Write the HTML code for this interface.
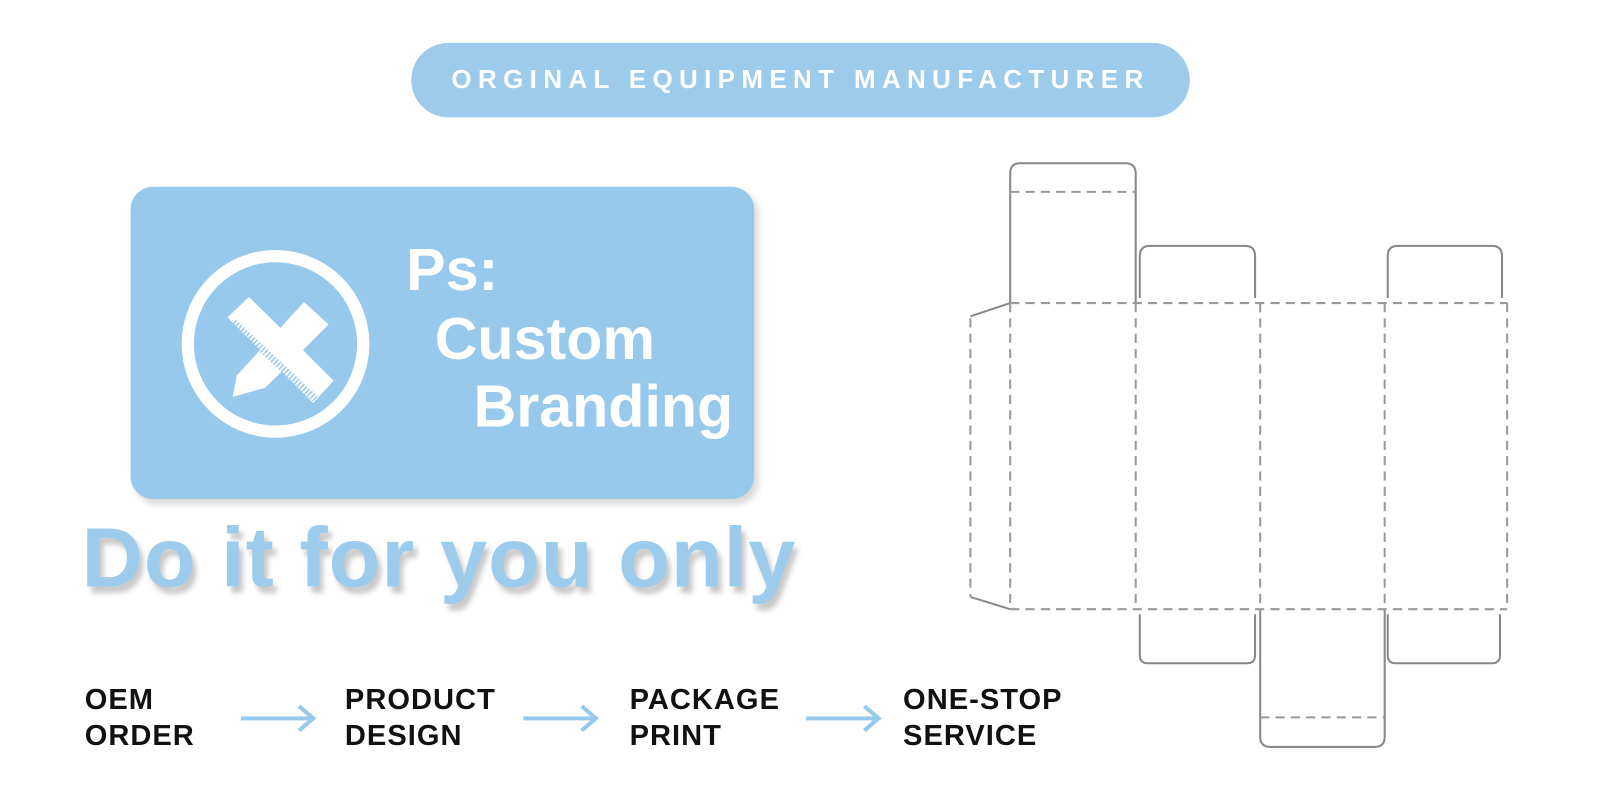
<!DOCTYPE html>
<html><head><meta charset="utf-8"><style>
body{margin:0;width:1600px;height:800px;background:#fff;position:relative;overflow:hidden;font-family:"Liberation Sans",sans-serif;font-weight:bold}
#w{position:absolute;left:0;top:0;width:1568px;height:784px;transform:scale(1.0204);transform-origin:0 0}
.pill{position:absolute;left:403px;top:42px;width:763px;height:73px;border-radius:37px;background:#9ccbec;color:#fff;font-size:25.5px;letter-spacing:6.2px;text-align:center;line-height:73px}
.card{position:absolute;left:128px;top:183px;width:611px;height:306px;border-radius:22px;background:#96c9eb;box-shadow:4px 5px 6px rgba(0,0,0,0.15)}
.t{position:absolute;color:#fff;font-size:58px}
.big{position:absolute;left:80px;top:499px;font-size:83px;color:#9ccbec;text-shadow:4px 6px 5px rgba(0,0,0,0.22);letter-spacing:1px}
.step{position:absolute;font-size:28.5px;color:#111;line-height:35px;letter-spacing:1px}
</style></head><body><div id="w">
<div class="pill">ORGINAL EQUIPMENT MANUFACTURER</div>
<div class="card">
<svg width="611" height="306" style="position:absolute;left:0;top:0">
<circle cx="142" cy="154" r="86" fill="none" stroke="#fff" stroke-width="12"/>
<g fill="#fff">
<polygon points="100,206 104,185 170,113 194,135 132,197"/>
<polygon points="95,128 116,108 199,190 179,212"/>
</g>
<line x1="101" y1="133" x2="181" y2="208" stroke="#96c9eb" stroke-width="7" stroke-dasharray="1.5 2"/>
</svg>
<div class="t" style="left:270px;top:48px">Ps:</div>
<div class="t" style="left:298px;top:116px">Custom</div>
<div class="t" style="left:336px;top:182px">Branding</div>
</div>
<div class="big">Do it for you only</div>
<div class="step" style="left:83px;top:669px">OEM<br>ORDER</div>
<div class="step" style="left:338px;top:669px">PRODUCT<br>DESIGN</div>
<div class="step" style="left:617px;top:669px">PACKAGE<br>PRINT</div>
<div class="step" style="left:885px;top:669px">ONE-STOP<br>SERVICE</div>
<svg width="1568" height="784" style="position:absolute;left:0;top:0">
<g stroke="#96c9eb" stroke-width="4" fill="none">
<line x1="236" y1="704" x2="305" y2="704"/><polyline points="293,692 307,704 293,716"/>
<line x1="513" y1="704" x2="582" y2="704"/><polyline points="570,692 584,704 570,716"/>
<line x1="790" y1="704" x2="859" y2="704"/><polyline points="847,692 861,704 847,716"/>
</g>
<g fill="none" stroke="#888" stroke-width="2">
<path d="M990,297 V170 Q990,160 1000,160 H1103 Q1113,160 1113,170 V297"/>
<path d="M1117,292 V251 Q1117,241 1127,241 H1220 Q1230,241 1230,251 V292"/>
<path d="M1360,292 V251 Q1360,241 1370,241 H1462 Q1472,241 1472,251 V292"/>
<path d="M990,297 L951,310 M951,585 L990,597"/>
<path d="M1117,602 V642 Q1117,650 1125,650 H1222 Q1230,650 1230,642 V602"/>
<path d="M1360,602 V642 Q1360,650 1368,650 H1462 Q1470,650 1470,642 V602"/>
<path d="M1235,597 V722 Q1235,732 1245,732 H1347 Q1357,732 1357,722 V597"/>
</g>
<g fill="none" stroke="#999" stroke-width="2" stroke-dasharray="9 6">
<line x1="990" y1="188" x2="1113" y2="188"/>
<line x1="1235" y1="703" x2="1357" y2="703"/>
<line x1="990" y1="297" x2="1477" y2="297"/>
<line x1="990" y1="597" x2="1477" y2="597"/>
<line x1="951" y1="312" x2="951" y2="585"/>
<line x1="990" y1="297" x2="990" y2="597"/>
<line x1="1113" y1="297" x2="1113" y2="597"/>
<line x1="1235" y1="297" x2="1235" y2="597"/>
<line x1="1357" y1="297" x2="1357" y2="597"/>
<line x1="1477" y1="297" x2="1477" y2="597"/>
</g>
</svg>
</div></body></html>
